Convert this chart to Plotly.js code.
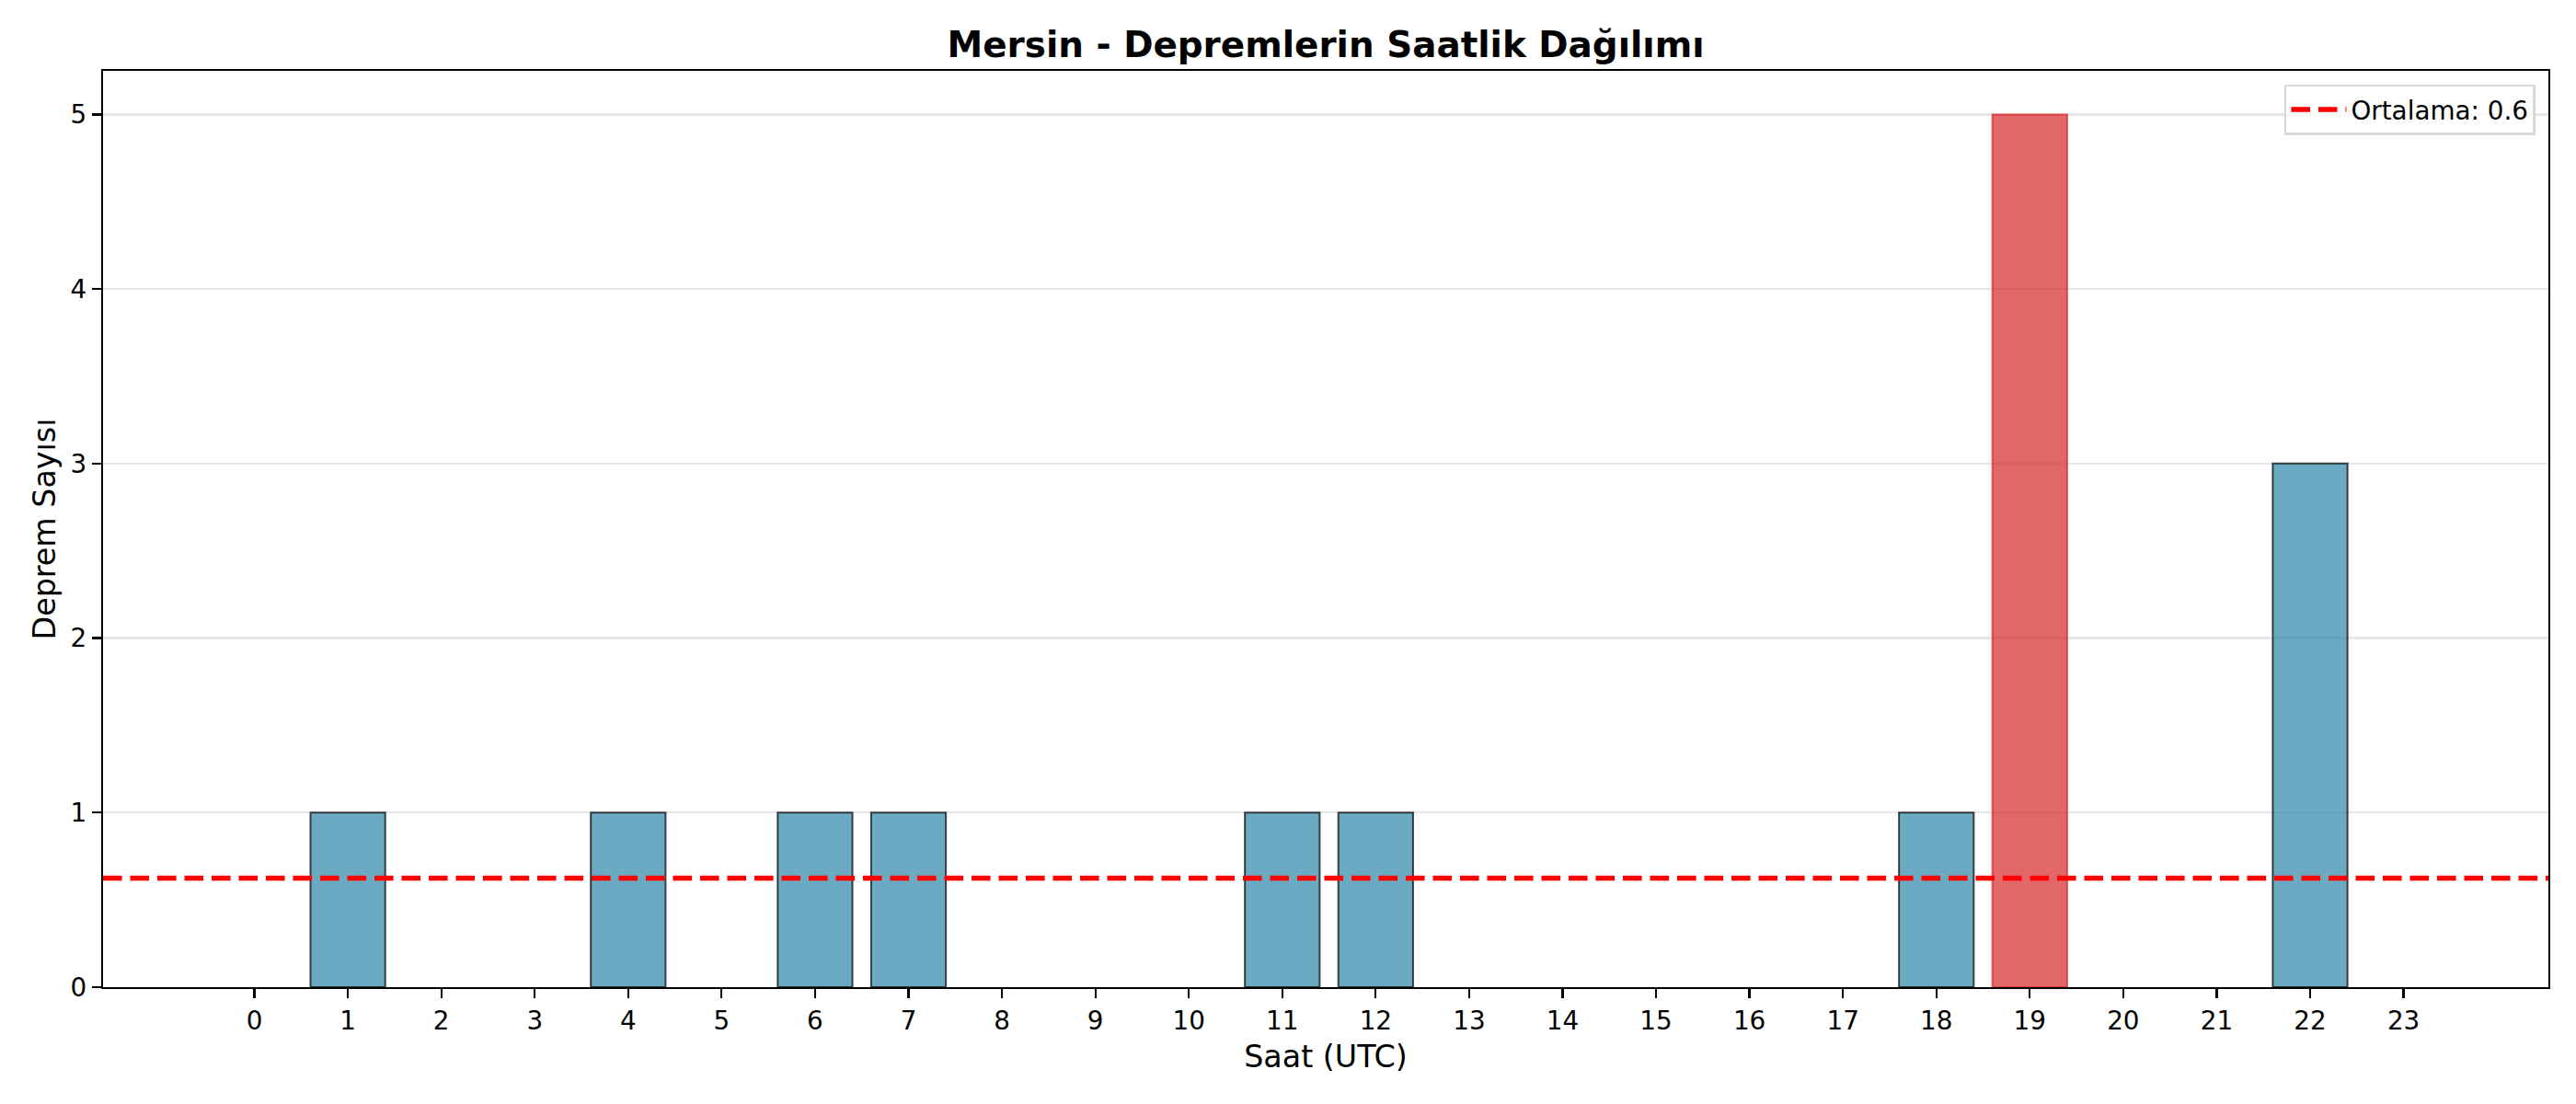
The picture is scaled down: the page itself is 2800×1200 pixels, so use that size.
<!DOCTYPE html>
<html>
<head>
<meta charset="utf-8">
<script src="https://cdn.plot.ly/plotly-3.0.1.min.js"></script>
<style>html,body{margin:0;padding:0;background:#fff}</style>
</head>
<body>
<div id="chart" style="width:2800px;height:1200px"></div>
<script>
const hours = [0,1,2,3,4,5,6,7,8,9,10,11,12,13,14,15,16,17,18,19,20,21,22,23];
const counts = [0,1,0,0,1,0,1,1,0,0,0,1,1,0,0,0,0,0,1,5,0,0,3,0];
const tickLabels = hours.map(String);
const titleText = "Mersin - Depremlerin Saatlik Dağılımı";
const xTitle = "Saat (UTC)";
const yTitle = "Deprem Sayısı";

const mean = counts.reduce((a,b)=>a+b,0) / counts.length;
const maxVal = Math.max(...counts);
const fillColors = counts.map(v => v === maxVal ? "rgba(214,39,40,0.7)" : "rgba(46,134,171,0.7)");
const edgeColors = counts.map(v => v === maxVal ? "rgba(214,39,40,0.7)" : "rgba(0,0,0,0.7)");
const edgeWidths = counts.map(v => v === 0 ? 0 : 2);

const font = "DejaVu Sans, sans-serif";

const data = [{
  type: "bar",
  x: hours,
  y: counts,
  width: 0.8,
  marker: {color: fillColors, line: {color: edgeColors, width: edgeWidths}},
  showlegend: false,
  hoverinfo: "x+y"
}];

const layout = {
  width: 2800, height: 1200,
  paper_bgcolor: "#fff", plot_bgcolor: "#fff",
  margin: {l: 112, r: 30, t: 77, b: 127, pad: 0},
  font: {family: font, color: "#000", size: 27.8},
  title: {text: "<b>" + titleText + "</b>", font: {family: font, size: 38.9, color: "#000"}, xref: "paper", x: 0.5, xanchor: "center", y: 1 - 48/1200, yanchor: "middle"},
  bargap: 0.2,
  xaxis: {
    range: [-1.62, 24.55],
    tickmode: "array", tickvals: hours, ticktext: tickLabels,
    ticks: "outside", ticklen: 10, tickwidth: 2.2, tickcolor: "#000",
    showgrid: false, zeroline: false,
    showline: true, linecolor: "#000", linewidth: 2.2, mirror: true,
    tickfont: {family: font, size: 27.8, color: "#000"},
    title: {text: xTitle, font: {family: font, size: 33.3, color: "#000"}, standoff: 12}
  },
  yaxis: {
    range: [0, 5.25],
    tickmode: "linear", tick0: 0, dtick: 1,
    ticks: "outside", ticklen: 10, tickwidth: 2.2, tickcolor: "#000",
    showgrid: true, gridcolor: "rgba(176,176,176,0.3)", gridwidth: 2.2,
    zeroline: false,
    showline: true, linecolor: "#000", linewidth: 2.2, mirror: true,
    tickfont: {family: font, size: 27.8, color: "#000"},
    title: {text: yTitle, font: {family: font, size: 33.3, color: "#000"}, standoff: 6}
  },
  showlegend: true,
  legend: {
    x: 0.9947, xanchor: "right", y: 0.985, yanchor: "top",
    bgcolor: "rgba(255,255,255,0.8)", bordercolor: "#d9d9d9", borderwidth: 2.5,
    itemwidth: 60,
    font: {family: font, size: 27.8, color: "#000"}
  },
  shapes: [{
    type: "line", xref: "paper", x0: 0, x1: 1, yref: "y", y0: mean, y1: mean,
    line: {color: "#ff0000", width: 5.6, dash: "20.6px,8.9px"},
    showlegend: true, name: "Ortalama: " + mean.toFixed(1)
  }]
};

Plotly.newPlot("chart", data, layout, {displayModeBar: false, staticPlot: true});
</script>
</body>
</html>
